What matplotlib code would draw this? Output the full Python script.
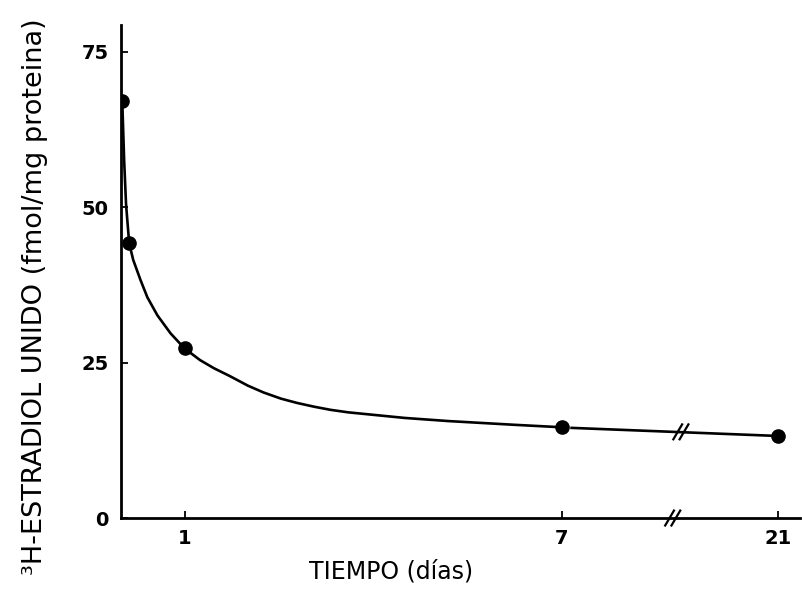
import numpy as np
import matplotlib.pyplot as plt

# measured points (dias, fmol/mg proteina)
days = [0, 0.11, 1, 7, 21]
bound = [67.0, 44.2, 27.3, 14.6, 13.2]

# fitted curve, day 0 to day 7
curve_days = [0, 0.03, 0.06, 0.11, 0.175, 0.29, 0.40, 0.56, 0.77, 0.99,
              1.24, 1.46, 1.72, 2.0, 2.25, 2.53, 2.79, 3.06, 3.32, 3.6,
              4.0, 4.5, 5.19, 6.24, 7.0]
curve_vals = [67.0, 57.5, 50.5, 44.2, 41.5, 38.3, 35.5, 32.6, 29.7, 27.3,
              25.4, 24.1, 22.8, 21.3, 20.2, 19.2, 18.5, 17.9, 17.4, 17.0,
              16.6, 16.1, 15.6, 15.0, 14.6]

# tail after the break (starts a little right of the day 7 dot)
tail_days = [7.65, 21]
tail_vals = [14.5, 13.2]

x_ticks = [1, 7, 21]
y_ticks = [0, 25, 50, 75]
break_day = 14.2


def axis_pos(d):
    # the axis is broken after day 7, later days are squeezed
    d = np.asarray(d, dtype=float)
    return np.where(d <= 7, d, 7 + (d - 7) * 0.246)


fig = plt.figure(figsize=(8.03, 5.89), dpi=100)
ax = fig.add_axes([0.1507, 0.1205, 0.8456, 0.837])

lw = 1.9
ax.plot(axis_pos(curve_days), curve_vals, color='black', lw=lw,
        solid_capstyle='round', solid_joinstyle='round')
ax.plot(axis_pos(tail_days), tail_vals, color='black', lw=lw)
ax.plot(axis_pos(days), bound, 'o', color='black', ms=9.5, zorder=5)

ax.set_xlim(-0.02, 10.8)
ax.set_ylim(0, 79.3)

for s in ['top', 'right']:
    ax.spines[s].set_visible(False)
for s in ['left', 'bottom']:
    ax.spines[s].set_linewidth(2.0)

ax.set_xticks(axis_pos(x_ticks))
ax.set_xticklabels([str(t) for t in x_ticks])
ax.set_yticks(y_ticks)
ax.tick_params(direction='in', length=5, width=1.3, labelsize=14, pad=8)
ax.tick_params(axis='y', pad=9)
for lab in ax.get_xticklabels() + ax.get_yticklabels():
    lab.set_fontweight('bold')

# break marks "//" on the curve and on the axis
bx = float(axis_pos(break_day))
ybreak = float(np.interp(break_day, tail_days, tail_vals))
for cx, cy in [(bx + 0.13, ybreak), (bx, 0)]:
    for off in (-0.05, 0.05):
        ax.plot([cx + off - 0.07, cx + off + 0.07], [cy - 1.2, cy + 1.2],
                color='black', lw=1.6, clip_on=False, zorder=6)

fig.text(0.043, 1 - 297 / 589, '³H-ESTRADIOL UNIDO (fmol/mg proteina)',
         rotation=90, ha='center', va='center', fontsize=19.5)
fig.text(391 / 803, 1 - 572 / 589, 'TIEMPO (días)', ha='center',
         va='center', fontsize=17)

fig.savefig('out.png', dpi=100)
